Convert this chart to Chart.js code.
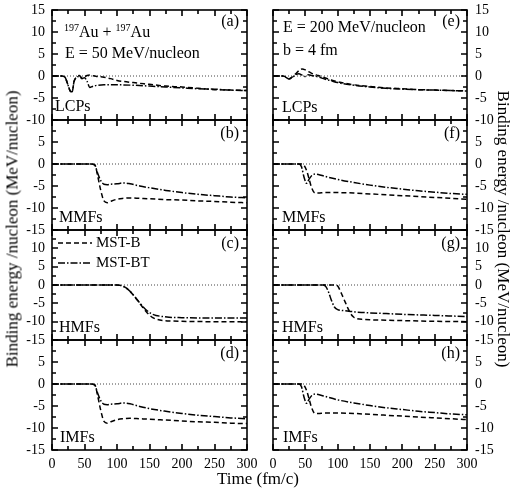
<!DOCTYPE html>
<html>
<head>
<meta charset="utf-8">
<script src="https://cdn.jsdelivr.net/npm/chart.js@4"></script>
<style>
  body { margin: 0; background: #fff; }
  #wrap { position: relative; width: 512px; height: 490px; overflow: hidden;
          font-family: 'Liberation Serif', 'Times New Roman', serif; color: #000; }
  #wrap canvas { position: absolute; }
  .lbl { position: absolute; font-size: 16px; line-height: 16px; white-space: nowrap; }
  .lbl sup { font-size: 10px; line-height: 0; vertical-align: 6px; }
  .ttl { position: absolute; font-size: 17px; line-height: 17px; white-space: nowrap; }
</style>
</head>
<body>
<div id="wrap">
  <div class="lbl" style="left:64px;top:24px;"><sup>197</sup>Au + <sup>197</sup>Au</div>
  <div class="lbl" style="left:65px;top:45px;">E = 50 MeV/nucleon</div>
  <div class="lbl" style="left:283px;top:19px;">E = 200 MeV/nucleon</div>
  <div class="lbl" style="left:283px;top:42px;">b = 4 fm</div>

  <div class="lbl" style="right:273px;top:13px;">(a)</div>
  <div class="lbl" style="right:273px;top:125px;">(b)</div>
  <div class="lbl" style="right:273px;top:235px;">(c)</div>
  <div class="lbl" style="right:273px;top:345px;">(d)</div>
  <div class="lbl" style="right:52px;top:13px;">(e)</div>
  <div class="lbl" style="right:52px;top:125px;">(f)</div>
  <div class="lbl" style="right:52px;top:235px;">(g)</div>
  <div class="lbl" style="right:52px;top:345px;">(h)</div>

  <div class="lbl" style="left:55px;top:98px;">LCPs</div>
  <div class="lbl" style="left:59px;top:209px;">MMFs</div>
  <div class="lbl" style="left:59px;top:319px;">HMFs</div>
  <div class="lbl" style="left:60px;top:429px;">IMFs</div>
  <div class="lbl" style="left:282px;top:99px;">LCPs</div>
  <div class="lbl" style="left:282px;top:209px;">MMFs</div>
  <div class="lbl" style="left:282px;top:319px;">HMFs</div>
  <div class="lbl" style="left:283px;top:429px;">IMFs</div>

  <div class="ttl" style="left:12px;top:229px;transform:translate(-50%,-50%) rotate(-90deg);">Binding energy /nucleon (MeV/nucleon)</div>
  <div class="ttl" style="left:503px;top:229px;transform:translate(-50%,-50%) rotate(90deg);">Binding energy /nucleon (MeV/nucleon)</div>
  <div class="ttl" style="left:258px;top:478px;transform:translate(-50%,-50%);">Time (fm/c)</div>
</div>

<script>
// ---- data (time in fm/c, binding energy in MeV/nucleon) ----

// LCPs, E = 50
const tLcp50   = [0, 15, 20, 25, 28, 31, 34, 38, 42, 46, 50, 54, 58, 62, 66, 70, 80, 90, 100, 125, 150, 175, 200, 225, 250, 275, 300];
const lcp50B   = [0, 0, -0.3, -2.2, -3.4, -3.6, -1.2, -0.2, 0.1, -0.4, -0.2, 0.1, 0.2, 0.1, 0, -0.1, -0.3, -0.6, -1.0, -1.5, -1.9, -2.3, -2.5, -2.8, -3.1, -3.2, -3.3];
const lcp50BT  = [0, 0, -0.3, -2.2, -3.4, -3.6, -1.2, -0.3, -0.1, -0.6, -0.4, -1.2, -2.6, -2.4, -2.2, -2.1, -2.0, -2.0, -2.0, -2.1, -2.3, -2.5, -2.7, -2.9, -3.0, -3.2, -3.3];

// LCPs, E = 200
const tLcp200  = [0, 15, 20, 25, 30, 35, 40, 45, 50, 55, 60, 70, 80, 90, 100, 125, 150, 175, 200, 225, 250, 275, 300];
const lcp200B  = [0, 0, -0.2, -0.6, -0.2, 0.5, 1.2, 1.6, 1.4, 1.0, 0.6, 0.1, -0.4, -0.9, -1.3, -2.0, -2.4, -2.7, -2.9, -3.1, -3.2, -3.3, -3.4];
const lcp200BT = [0, 0, -0.3, -0.7, -0.3, 0.3, 0.5, 0.2, -0.1, 0.3, 0.1, -0.2, -0.7, -1.1, -1.5, -2.1, -2.5, -2.8, -3.0, -3.1, -3.2, -3.3, -3.4];

// MMFs / IMFs, E = 50
const tFrag50  = [0, 60, 66, 70, 75, 80, 85, 90, 100, 110, 120, 135, 150, 175, 200, 225, 250, 275, 300];
const mmf50B   = [0, 0, -0.2, -2.5, -6.0, -8.4, -8.8, -8.5, -8.0, -7.8, -7.7, -7.8, -7.9, -8.1, -8.2, -8.4, -8.5, -8.7, -8.8];
const mmf50BT  = [0, 0, -0.3, -2.0, -3.8, -4.6, -4.7, -4.6, -4.5, -4.3, -4.5, -5.0, -5.4, -6.0, -6.5, -6.9, -7.2, -7.5, -7.7];
const imf50B   = [0, 0, -0.2, -2.5, -6.0, -8.5, -8.9, -8.6, -8.1, -7.9, -7.8, -7.9, -8.0, -8.2, -8.4, -8.6, -8.7, -8.9, -9.0];
const imf50BT  = [0, 0, -0.3, -2.0, -3.8, -4.6, -4.7, -4.6, -4.5, -4.3, -4.5, -5.1, -5.6, -6.2, -6.7, -7.1, -7.4, -7.7, -7.9];

// MMFs / IMFs, E = 200
const tFrag200 = [0, 40, 44, 48, 52, 56, 60, 65, 70, 80, 100, 125, 150, 175, 200, 225, 250, 275, 300];
const mmf200B  = [0, 0, 0, -0.3, -1.5, -3.5, -5.5, -6.6, -6.6, -6.5, -6.5, -6.6, -6.8, -7.0, -7.2, -7.4, -7.6, -7.8, -8.0];
const mmf200BT = [0, 0, -0.6, -3.0, -4.4, -3.4, -2.6, -2.3, -2.4, -2.8, -3.5, -4.2, -4.8, -5.3, -5.7, -6.1, -6.4, -6.7, -6.9];
const imf200B  = [0, 0, 0, -0.3, -1.5, -3.5, -5.5, -6.7, -6.7, -6.6, -6.6, -6.7, -6.9, -7.1, -7.3, -7.5, -7.7, -7.9, -8.1];
const imf200BT = [0, 0, -0.6, -3.0, -4.4, -3.4, -2.6, -2.3, -2.4, -2.8, -3.6, -4.3, -4.9, -5.4, -5.8, -6.2, -6.5, -6.8, -7.0];

// HMFs
const tHmf50   = [0, 100, 105, 110, 115, 120, 125, 130, 135, 140, 145, 150, 155, 160, 170, 180, 200, 250, 300];
const hmf50B   = [0, 0, -0.1, -0.4, -0.9, -1.7, -2.7, -3.8, -5.0, -6.2, -7.3, -8.2, -8.9, -9.3, -9.7, -9.8, -9.9, -10.0, -10.0];
const hmf50BT  = [0, 0, -0.1, -0.4, -0.9, -1.7, -2.7, -3.8, -4.9, -5.9, -6.8, -7.5, -8.0, -8.3, -8.6, -8.8, -8.9, -9.0, -9.0];
const tHmf200  = [0, 78, 82, 86, 90, 95, 100, 105, 110, 115, 120, 125, 130, 140, 150, 175, 200, 250, 300];
const hmf200B  = [0, 0, 0, 0, 0, 0, -0.3, -2.0, -4.0, -6.0, -7.8, -8.8, -9.2, -9.4, -9.5, -9.6, -9.7, -9.9, -10.0];
const hmf200BT = [0, 0, -0.5, -2.0, -4.0, -6.0, -6.7, -6.9, -7.0, -7.1, -7.2, -7.3, -7.4, -7.5, -7.6, -7.8, -8.0, -8.3, -8.6];

// dotted zero reference
const zeroT = [0, 300];
const zeroV = [0, 0];

const seriesNames = ['MST-B', 'MST-BT'];
const xTicks = { min: 0, max: 300, step: 50 };

// panel layout: col 0 = 50 MeV, col 1 = 200 MeV; rows LCPs, MMFs, HMFs, IMFs
const panels = [
  { col: 0, row: 0, min: -10, max: 15, t: tLcp50,   b: lcp50B,  bt: lcp50BT },
  { col: 0, row: 1, min: -15, max: 10, t: tFrag50,  b: mmf50B,  bt: mmf50BT },
  { col: 0, row: 2, min: -15, max: 15, t: tHmf50,   b: hmf50B,  bt: hmf50BT, legend: true },
  { col: 0, row: 3, min: -15, max: 10, t: tFrag50,  b: imf50B,  bt: imf50BT },
  { col: 1, row: 0, min: -10, max: 15, t: tLcp200,  b: lcp200B, bt: lcp200BT },
  { col: 1, row: 1, min: -15, max: 10, t: tFrag200, b: mmf200B, bt: mmf200BT },
  { col: 1, row: 2, min: -15, max: 15, t: tHmf200,  b: hmf200B, bt: hmf200BT },
  { col: 1, row: 3, min: -15, max: 10, t: tFrag200, b: imf200B, bt: imf200BT },
];

Chart.defaults.font.family = "'Liberation Serif', 'Times New Roman', serif";
Chart.defaults.color = '#000';

const DASH_B  = [5, 3];
const DASH_BT = [7, 2, 1.5, 2];

const pts = (t, v) => t.map((x, i) => ({ x, y: v[i] }));

// box + inward ticks on all four sides
function drawFrame(chart) {
  const ctx = chart.ctx;
  const a = chart.chartArea;
  const x = chart.scales.x;
  const y = chart.scales.y;
  const L = Math.round(a.left), R = Math.round(a.right);
  const T = Math.round(a.top), B = Math.round(a.bottom);
  ctx.save();
  ctx.setLineDash([]);
  ctx.strokeStyle = '#000';
  ctx.lineWidth = 1.6;
  ctx.strokeRect(L, T, R - L, B - T);
  ctx.beginPath();
  for (let v = xTicks.min; v <= xTicks.max; v += 25) {
    const px = Math.round(x.getPixelForValue(v));
    const len = v % 50 === 0 ? 6 : 4;
    ctx.moveTo(px, B); ctx.lineTo(px, B - len);
    ctx.moveTo(px, T); ctx.lineTo(px, T + len);
  }
  for (let v = y.min; v <= y.max + 1e-6; v += 2.5) {
    const py = Math.round(y.getPixelForValue(v));
    const len = Math.abs(v % 5) < 1e-6 ? 6 : 4;
    ctx.moveTo(L, py); ctx.lineTo(L + len, py);
    ctx.moveTo(R, py); ctx.lineTo(R - len, py);
  }
  ctx.stroke();
  ctx.restore();
}

// line-sample legend drawn inside panel (c)
function drawLegend(chart) {
  const ctx = chart.ctx;
  const a = chart.chartArea;
  ctx.save();
  ctx.font = "15px 'Liberation Serif', serif";
  ctx.textBaseline = 'middle';
  ctx.fillStyle = '#000';
  chart.data.datasets.filter(d => d.label).forEach((d, i) => {
    const yy = a.top + 13 + i * 20;
    ctx.strokeStyle = '#000';
    ctx.lineWidth = d.borderWidth;
    ctx.setLineDash(d.borderDash);
    ctx.beginPath();
    ctx.moveTo(a.left + 6, yy);
    ctx.lineTo(a.left + 40, yy);
    ctx.stroke();
    ctx.fillText(d.label, a.left + 44, yy);
  });
  ctx.restore();
}

const decorPlugin = {
  id: 'panelDecor',
  afterDraw(chart) {
    drawFrame(chart);
    if (chart.$legend) drawLegend(chart);
  }
};

const wrap = document.getElementById('wrap');

panels.forEach(p => {
  const isLeft = p.col === 0;
  const isBottom = p.row === 3;
  const areaTop = 10 + 110 * p.row;

  const canvas = document.createElement('canvas');
  const cLeft = isLeft ? 0 : 262;
  const cWidth = isLeft ? 262 : 250;
  const cTop = areaTop - 10;
  const cHeight = isBottom ? 160 : 130;
  canvas.width = cWidth;
  canvas.height = cHeight;
  canvas.style.left = cLeft + 'px';
  canvas.style.top = cTop + 'px';
  canvas.style.width = cWidth + 'px';
  canvas.style.height = cHeight + 'px';
  wrap.insertBefore(canvas, wrap.firstChild);

  const hideTop = p.row > 0;

  const chart = new Chart(canvas.getContext('2d'), {
    type: 'line',
    data: {
      datasets: [
        { label: seriesNames[0], data: pts(p.t, p.b),  borderColor: '#000', borderWidth: 1.5, borderDash: DASH_B,  pointRadius: 0, cubicInterpolationMode: 'monotone' },
        { label: seriesNames[1], data: pts(p.t, p.bt), borderColor: '#000', borderWidth: 1.5, borderDash: DASH_BT, pointRadius: 0, cubicInterpolationMode: 'monotone' },
        { label: '', data: pts(zeroT, zeroV), borderColor: '#444', borderWidth: 1, borderDash: [1, 2], pointRadius: 0 },
      ],
    },
    options: {
      responsive: false,
      maintainAspectRatio: false,
      devicePixelRatio: 1,
      animation: false,
      events: [],
      layout: {
        padding: isLeft
          ? { left: 0, right: 15, top: 10, bottom: isBottom ? 0 : 10 }
          : { left: 11, right: 0, top: 10, bottom: isBottom ? 0 : 10 },
      },
      plugins: {
        legend: { display: false },
        tooltip: { enabled: false },
      },
      scales: {
        x: {
          type: 'linear',
          min: xTicks.min,
          max: xTicks.max,
          display: isBottom,
          grid: { display: false, drawTicks: false },
          border: { display: false },
          ticks: { stepSize: xTicks.step, padding: 6, font: { size: 14 }, maxRotation: 0, autoSkip: false },
          afterFit: s => { s.height = isBottom ? 40 : 0; s.paddingLeft = 0; s.paddingRight = 0; },
        },
        y: {
          type: 'linear',
          position: isLeft ? 'left' : 'right',
          min: p.min,
          max: p.max,
          grid: { display: false, drawTicks: false },
          border: { display: false },
          ticks: {
            stepSize: 5,
            padding: isLeft ? 7 : 8,
            font: { size: 14 },
            autoSkip: false,
            callback: v => (hideTop && v === p.max) ? '' : v,
          },
          afterFit: s => { s.width = isLeft ? 52 : 45; s.paddingTop = 0; s.paddingBottom = 0; },
        },
      },
    },
    plugins: [decorPlugin],
  });
  chart.$legend = !!p.legend;
  chart.draw();
});
</script>
</body>
</html>
